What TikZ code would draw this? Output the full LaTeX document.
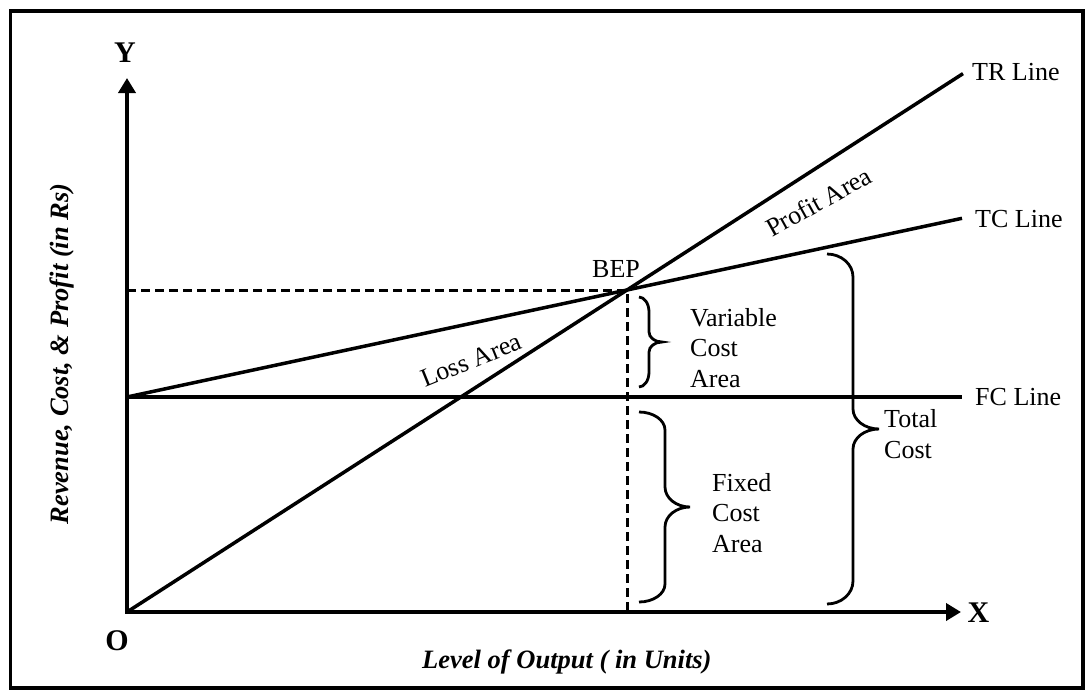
\documentclass[tikz,border=0pt]{standalone}
\usepackage{fontspec}
\setmainfont{Liberation Serif}
\usetikzlibrary{arrows.meta,calc}

% curly brace opening to the left: #1 end x, #2 spine x, #3 tip x,
% #4 top y, #5 tip y, #6 bottom y, #7 end radius, #8 tip radius
\newcommand\costbrace[8]{%
  \draw[bracestyle] (#1,#4)
    .. controls ({#1+0.552*(#2-#1)},#4) and (#2,{#4+0.448*#7}) .. (#2,{#4+#7})
    -- (#2,{#5-#8})
    .. controls (#2,{#5-0.448*#8}) and ({#3-0.552*(#3-#2)},#5) .. (#3,#5)
    .. controls ({#3-0.552*(#3-#2)},#5) and (#2,{#5+0.448*#8}) .. (#2,{#5+#8})
    -- (#2,{#6-#7})
    .. controls (#2,{#6-0.448*#7}) and ({#1+0.552*(#2-#1)},#6) .. (#1,#6);}

\tikzset{
  frame/.style={line width=3.5pt},
  axis/.style={line width=4pt,{Triangle[length=15pt,width=17pt]}-{Triangle[length=15pt,width=17pt]}},
  costline/.style={line width=3.5pt},
  guide/.style={line width=3pt,dash pattern=on 9pt off 5pt},
  bracestyle/.style={line width=2.8pt},
  label/.style={inner sep=0pt,font=\fontsize{26}{30.5}\selectfont},
  boxlabel/.style={label,align=left,anchor=base west},
  axistitle/.style={inner sep=0pt,font=\fontsize{26.5}{30}\selectfont\bfseries\itshape},
  axisletter/.style={inner sep=0pt,font=\fontsize{30}{32}\selectfont\bfseries},
}

\begin{document}
\begin{tikzpicture}[x=1pt,y=-1pt]
\useasboundingbox (0,0) rectangle (1087,691);
\draw[frame] (10.5,11) rectangle (1083,688);

% key points
\coordinate (O) at (127,612);
\coordinate (Ytip) at (127,78);
\coordinate (Xtip) at (961,612);
\coordinate (BEP) at (627,290);
\coordinate (F0) at (127,397);
\coordinate (Ycut) at (127,290);
\coordinate (Xcut) at (627,612);
\coordinate (FCend) at (962,397);
\coordinate (TCend) at ($(F0)!1.67!(BEP)$);
\coordinate (TRend) at ($(O)!1.672!(BEP)$);

% axes
\draw[axis] (Ytip) -- (O) -- (Xtip);

% cost and revenue lines
\draw[costline] (F0) -- (FCend);
\draw[costline] (F0) -- (TCend);
\draw[costline] (O) -- (TRend);

% break-even guides
\draw[guide] (Ycut) -- (BEP) -- (Xcut);

% braces
\costbrace{639}{649}{662}{297}{342}{387}{15}{10}
\costbrace{639}{665}{690}{412}{507}{602}{18}{20}
\costbrace{827}{853}{879}{254}{429}{604}{23}{20}

% axis letters and titles
\node[axisletter] (ylet) at (125,53) {Y};
\node[axisletter] (xlet) at (978.5,612.5) {X};
\node[axisletter] (olet) at (117,641) {O};
\node[axistitle,rotate=90] (ytitle) at (62,354) {Revenue, Cost, \& Profit (in Rs)};
\node[axistitle,anchor=base west] (xtitle) at (422,668) {Level of Output ( in Units)};

% line labels
\node[label,anchor=base west] (trl) at (972,80) {TR Line};
\node[label,anchor=base west] (tcl) at (975,227) {TC Line};
\node[label,anchor=base west] (fcl) at (975,405) {FC Line};
\node[label,anchor=base west] (bepl) at (592,277) {BEP};

% area labels (multi-line nodes are placed by their last baseline)
\node[label,anchor=base west,rotate=22] (loss) at (425,388) {Loss Area};
\node[label,anchor=base west,rotate=29] (profit) at (772,238) {Profit Area};
\node[boxlabel] (vca) at (690,387) {Variable\\Cost\\Area};
\node[boxlabel] (fca) at (712,552) {Fixed\\Cost\\Area};
\node[boxlabel] (tcost) at (884,458) {Total\\Cost};
\end{tikzpicture}
\end{document}
